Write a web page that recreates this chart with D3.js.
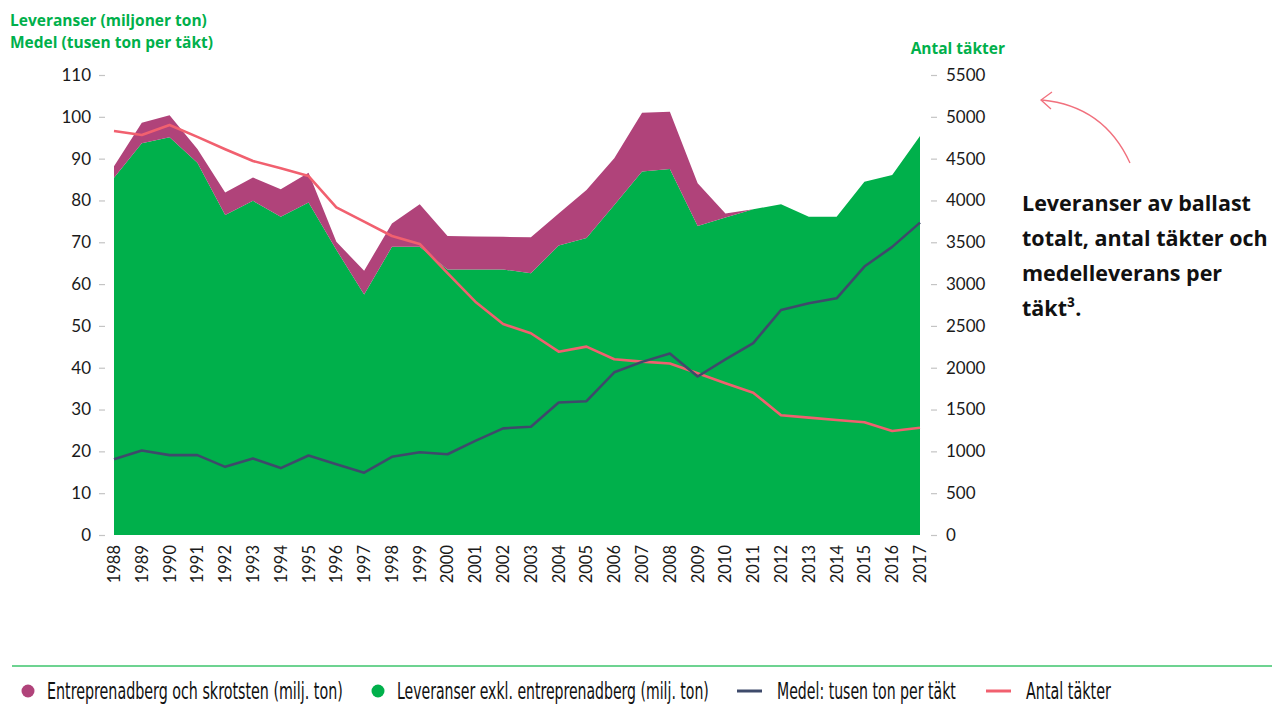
<!DOCTYPE html>
<html>
<head>
<meta charset="utf-8">
<style>
  body { margin: 0; background: #fff; }
  svg { display: block; }
</style>
</head>
<body>
<svg width="1272" height="704" font-family="Lato, 'Open Sans', sans-serif"></svg>

<script src="https://d3js.org/d3.v7.min.js"></script>

<script>
// data
var years = d3.range(1988, 2018);
var leveranserExkl = [85.4, 93.7, 95.1, 89.0, 76.5, 79.9, 76.1, 79.5, 68.2, 57.5,
                      68.9, 68.9, 63.5, 63.5, 63.5, 62.6, 69.2, 71.0, 78.9, 86.9,
                      87.5, 73.9, 75.9, 77.9, 79.1, 76.1, 76.1, 84.5, 86.1, 95.4];
var entreprenadberg = [2.8, 4.9, 5.3, 3.3, 5.4, 5.6, 6.6, 7.1, 1.9, 5.7,
                       5.6, 10.2, 8.0, 7.9, 7.8, 8.6, 7.7, 11.5, 11.2, 14.1,
                       13.7, 10.2, 1.0, 0, 0, 0, 0, 0, 0, 0];
var medel = [18.1, 20.2, 19.1, 19.1, 16.3, 18.3, 16.0, 19.0, 16.9, 14.9,
             18.7, 19.8, 19.3, 22.5, 25.5, 25.9, 31.7, 32.0, 38.9, 41.4,
             43.4, 37.9, 42.0, 45.9, 53.8, 55.4, 56.6, 64.2, 68.9, 74.7];
var antalTakter = [4830, 4783, 4902, 4760, 4612, 4472, 4384, 4292, 3918, 3746,
                   3575, 3480, 3130, 2790, 2523, 2412, 2192, 2252, 2101, 2073,
                   2050, 1933, 1814, 1702, 1431, 1403, 1375, 1348, 1244, 1283];
var leftTicks = d3.range(0, 111, 10);
var rightTicks = d3.range(0, 5501, 500);
var legendItems = [
  {label: "Entreprenadberg och skrotsten (milj. ton)", type: "dot", color: "#b0437a"},
  {label: "Leveranser exkl. entreprenadberg (milj. ton)", type: "dot", color: "#00b04b"},
  {label: "Medel: tusen ton per täkt", type: "line", color: "#3e4a6b"},
  {label: "Antal täkter", type: "line", color: "#f1606f"}
];
var noteLines = ["Leveranser av ballast", "totalt, antal täkter och", "medelleverans per", "täkt³."];

var rows = years.map(function(y, i) {
  return {year: y, exkl: leveranserExkl[i], entr: entreprenadberg[i], medel: medel[i], antal: antalTakter[i]};
});

var svg = d3.select("svg");

var x = d3.scaleLinear().domain([1988, 2017]).range([114, 920]);
var yL = d3.scaleLinear().domain([0, 110]).range([535, 75]);
var yR = d3.scaleLinear().domain([0, 5500]).range([535, 75]);

// stacked areas
var series = d3.stack().keys(["exkl", "entr"])(rows);
var areaColors = {exkl: "#00b04b", entr: "#b0437a"};
var area = d3.area()
    .x(function(d) { return x(d.data.year); })
    .y0(function(d) { return yL(d[0]); })
    .y1(function(d) { return yL(d[1]); });

svg.selectAll(".area")
  .data(series)
  .enter().append("path")
    .attr("class", "area")
    .attr("fill", function(d) { return areaColors[d.key]; })
    .attr("d", area);

// lines
var antalLine = d3.line()
    .x(function(d) { return x(d.year); })
    .y(function(d) { return yR(d.antal); });
var medelLine = d3.line()
    .x(function(d) { return x(d.year); })
    .y(function(d) { return yL(d.medel); });

svg.append("path").datum(rows)
    .attr("fill", "none").attr("stroke", "#f1606f").attr("stroke-width", 2.6)
    .attr("stroke-linejoin", "round")
    .attr("d", antalLine);
svg.append("path").datum(rows)
    .attr("fill", "none").attr("stroke", "#3e4a6b").attr("stroke-width", 2.6)
    .attr("stroke-linejoin", "round")
    .attr("d", medelLine);

// axes
var gL = svg.append("g").attr("transform", "translate(105,0)")
    .call(d3.axisLeft(yL).tickValues(leftTicks).tickSize(6).tickPadding(8));
var gR = svg.append("g").attr("transform", "translate(931,0)")
    .call(d3.axisRight(yR).tickValues(rightTicks).tickFormat(d3.format("d")).tickSize(6).tickPadding(9));
[gL, gR].forEach(function(g) {
  g.select(".domain").remove();
  g.selectAll(".tick line").attr("stroke", "#c4c4c4").attr("stroke-width", 1.2);
  g.selectAll(".tick text").attr("fill", "#1a1a1a")
      .attr("font-family", "Lato, 'Open Sans', sans-serif").attr("font-size", 17);
});

svg.append("g").selectAll("text")
  .data(years)
  .enter().append("text")
    .attr("transform", function(d) { return "translate(" + x(d) + ",545) rotate(-90)"; })
    .attr("text-anchor", "end")
    .attr("dy", "0.36em")
    .attr("font-size", 16.5)
    .attr("fill", "#1a1a1a")
    .text(function(d) { return d; });

// axis titles
var titleG = svg.append("g").attr("fill", "#00b04b").attr("font-weight", "bold")
    .attr("font-family", "'Open Sans', sans-serif").attr("font-size", 15.5);
titleG.append("text").attr("x", 10).attr("y", 26).text("Leveranser (miljoner ton)");
titleG.append("text").attr("x", 10).attr("y", 48).text("Medel (tusen ton per täkt)");
titleG.append("text").attr("x", 1005).attr("y", 54).attr("text-anchor", "end").text("Antal täkter");

// note with arrow
svg.append("g").selectAll("text")
  .data(noteLines)
  .enter().append("text")
    .attr("x", 1022)
    .attr("y", function(d, i) { return 211 + i * 35; })
    .attr("font-family", "'Open Sans', sans-serif")
    .attr("font-size", 21.5)
    .attr("font-weight", "bold")
    .attr("fill", "#111")
    .text(function(d) { return d; });

var arrow = svg.append("g").attr("fill", "none").attr("stroke", "#f1707d").attr("stroke-width", 1.3);
arrow.append("path").attr("d", "M1130,163 Q1104,106 1042,100");
arrow.append("path").attr("d", "M1052,92 L1041,100 L1051,109");

// legend
svg.append("line")
    .attr("x1", 12).attr("x2", 1272).attr("y1", 666).attr("y2", 666)
    .attr("stroke", "#3cc46c").attr("stroke-width", 1.5);

var legendX = [28, 378, 737, 986];
var legendW = [296, 312, 179, 85];
var lg = svg.append("g").selectAll("g")
  .data(legendItems)
  .enter().append("g")
    .attr("transform", function(d, i) { return "translate(" + legendX[i] + ",691)"; });
lg.filter(function(d) { return d.type === "dot"; }).append("circle")
    .attr("r", 6.5).attr("fill", function(d) { return d.color; });
lg.filter(function(d) { return d.type === "line"; }).append("line")
    .attr("x1", 0).attr("x2", 25)
    .attr("stroke", function(d) { return d.color; }).attr("stroke-width", 3);
lg.append("text")
    .attr("dy", "0.35em")
    .attr("font-family", "'Liberation Sans Narrow', 'DejaVu Sans Condensed', sans-serif")
    .attr("font-size", 23)
    .attr("fill", "#111")
    .text(function(d) { return d.label; })
    .each(function(d, i) {
      var sx = legendW[i] / this.getComputedTextLength();
      var tx = d.type === "dot" ? 19 : 40;
      d3.select(this).attr("transform", "translate(" + tx + ",0) scale(" + sx + ",1)");
    });
</script>
</body>
</html>
